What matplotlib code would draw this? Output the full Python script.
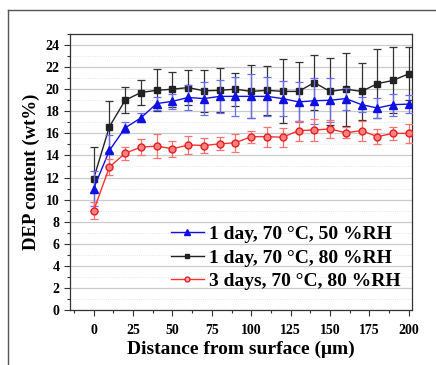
import numpy as np
import matplotlib
matplotlib.use("Agg")
from matplotlib import pyplot as plt
from matplotlib.lines import Line2D
from matplotlib.ticker import MultipleLocator

plt.rcParams['font.family'] = ['Liberation Serif', 'DejaVu Serif']
plt.rcParams['font.weight'] = 'bold'

distance = [0, 10, 20, 30, 40, 50, 60, 70, 80, 90, 100,
            110, 120, 130, 140, 150, 160, 170, 180, 190, 200]

rh50_1d = [11.0, 14.45, 16.5, 17.4, 18.7, 18.9, 19.25, 19.15, 19.35, 19.35, 19.35,
           19.35, 19.15, 18.85, 18.95, 19.0, 19.15, 18.6, 18.3, 18.6, 18.65]
rh50_1d_err = [1.6, 1.4, 0.5, 0.4, 0.6, 0.7, 1.1, 1.5, 1.5, 1.75, 2.0,
               1.75, 1.6, 1.8, 2.1, 2.0, 1.0, 0.7, 0.9, 1.0, 0.8]

rh80_1d = [11.9, 16.6, 19.0, 19.7, 19.9, 20.0, 20.15, 19.85, 19.9, 20.0, 19.8,
           19.9, 19.8, 19.8, 20.6, 19.8, 20.0, 19.8, 20.5, 20.8, 21.4]
rh80_1d_err = [2.9, 2.3, 1.2, 1.1, 1.9, 1.6, 1.6, 1.9, 2.0, 1.5, 2.4,
               2.2, 2.9, 2.7, 2.5, 3.0, 3.3, 2.6, 3.1, 3.0, 2.4]

rh80_3d = [9.0, 12.95, 14.2, 14.75, 14.85, 14.6, 14.95, 14.9, 15.05, 15.15, 15.7,
           15.7, 15.65, 16.25, 16.3, 16.4, 16.05, 16.25, 15.7, 16.0, 16.0]
rh80_3d_err = [0.8, 0.7, 0.6, 0.7, 1.1, 0.7, 0.85, 0.7, 0.6, 0.8, 0.55,
               0.9, 0.85, 0.9, 1.0, 0.8, 0.5, 0.9, 0.7, 0.6, 0.85]

labels = ['1 day, 70 °C, 50 %RH', '1 day, 70 °C, 80 %RH', '3 days, 70 °C, 80 %RH']

fig = plt.figure(figsize=(4.36, 3.65), dpi=100)
ax = fig.add_axes([70/436, 1 - 310/365, 342/436, 276/365])

# outer frame lines
fig.add_artist(Line2D([8/436, 8/436], [0, 1 - 10/365], color='#555555', lw=1.0))
fig.add_artist(Line2D([8/436, 1], [1 - 10/365, 1 - 10/365], color='#555555', lw=1.0))

ax.errorbar(distance, rh80_1d, yerr=rh80_1d_err, color='#222222', ecolor='#333333',
            marker='s', ms=5, lw=1.0, elinewidth=0.9, capsize=3, capthick=0.9, zorder=3)
ax.errorbar(distance, rh50_1d, yerr=rh50_1d_err, color='#1010e0', ecolor='#6a6aff',
            marker='^', ms=6, lw=1.0, elinewidth=0.9, capsize=3, capthick=0.9, zorder=4)
ax.errorbar(distance, rh80_3d, yerr=rh80_3d_err, color='#ff3030', ecolor='#ff7070',
            marker='o', ms=5, mfc='#ff8080', mec='#e02020', lw=1.0, elinewidth=0.9,
            capsize=3, capthick=0.9, zorder=5)

ax.set_xlim(-15, 202)
ax.set_ylim(0, 25)
ax.xaxis.set_major_locator(MultipleLocator(25))
ax.xaxis.set_minor_locator(MultipleLocator(12.5))
ax.yaxis.set_major_locator(MultipleLocator(2))
ax.yaxis.set_minor_locator(MultipleLocator(1))
ax.tick_params(which='both', direction='out', labelsize=10, width=0.8, color='#333333')
ax.tick_params(which='major', length=4)
ax.tick_params(which='minor', length=2)
ax.tick_params(axis='x', pad=6)
for lab in ax.get_xticklabels() + ax.get_yticklabels():
    lab.set_fontweight('bold')

ax.grid(which='major', axis='y', color='#cccccc', lw=0.9)
ax.grid(which='minor', axis='y', color='#dddddd', lw=0.6, linestyle=':')
ax.set_axisbelow(True)
for s in ax.spines.values():
    s.set_color('#333333')
    s.set_linewidth(0.9)

ax.set_xlabel('Distance from surface (μm)', fontsize=14, fontweight='bold', labelpad=3)
ax.set_ylabel('DEP content (wt%)', fontsize=13.5, fontweight='bold', labelpad=4)

handles = [
    Line2D([], [], color='#1010e0', marker='^', ms=5, lw=1.0),
    Line2D([], [], color='#222222', marker='s', ms=3.5, lw=1.0),
    Line2D([], [], color='#ff3030', marker='o', ms=3.5, mfc='#ffb0b0', mec='#e02020', lw=1.0),
]
ax.legend(handles, labels, loc='lower right', bbox_to_anchor=(1.0, 0.03), frameon=False,
          prop={'size': 14, 'weight': 'bold'}, handlelength=1.7,
          handletextpad=0.25, labelspacing=0.3, borderaxespad=0.2)

fig.savefig('out.png', dpi=100)
